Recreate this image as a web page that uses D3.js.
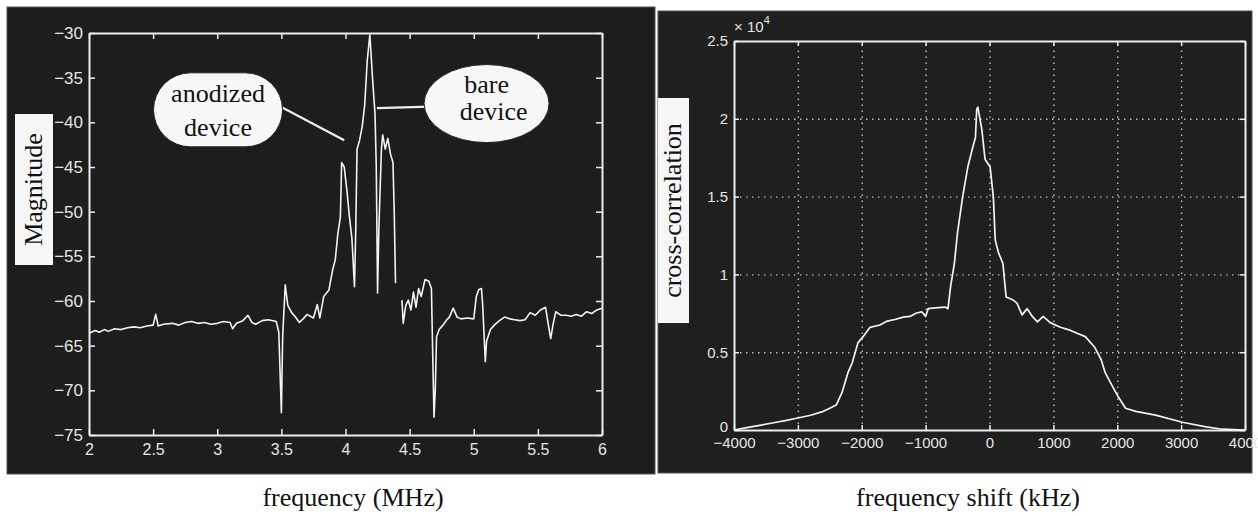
<!DOCTYPE html>
<html>
<head>
<meta charset="utf-8">
<script src="https://cdn.jsdelivr.net/npm/d3@7"></script>
<style>
  body { margin: 0; background: #fff; }
  svg { display: block; }
  .tick text { font-family: "Liberation Sans", Arial, sans-serif; fill: #e4e4e4; }
  .serif { font-family: "Liberation Serif", "Times New Roman", serif; fill: #111; }
</style>
</head>
<body>
<svg id="chart"></svg>
<script>
// left panel: measured spectrum, magnitude vs frequency (MHz); null = gap in trace
const leftFreq = [2.00, 2.05, 2.08, 2.12, 2.15, 2.20, 2.25, 2.30, 2.35, 2.40, 2.45, 2.50, 2.52, 2.54, 2.58,
  2.65, 2.70, 2.75, 2.80, 2.85, 2.90, 2.95, 3.00, 3.05, 3.10, 3.12, 3.15, 3.20, 3.24, 3.27, 3.30, 3.35,
  3.40, 3.46, 3.48, 3.50, 3.51, 3.53, 3.55, 3.58, 3.61, 3.64, 3.67, 3.70, 3.75, 3.78, 3.80, 3.83, 3.87,
  3.90, 3.92, 3.94, 3.96, 3.97, 3.99, 4.01, 4.03, 4.05, 4.07, 4.08, 4.09, 4.11, 4.13, 4.15, 4.17, 4.19,
  4.21, 4.22, 4.23, 4.24, 4.25, 4.26, 4.28, 4.29, 4.31, 4.33, 4.35, 4.37, 4.38, 4.39, 4.41, 4.44, 4.45,
  4.47, 4.49, 4.51, 4.53, 4.55, 4.57, 4.59, 4.62, 4.65, 4.67, 4.68, 4.69, 4.70, 4.71, 4.73, 4.76, 4.79,
  4.81, 4.84, 4.87, 4.90, 4.95, 5.00, 5.02, 5.04, 5.06, 5.07, 5.09, 5.10, 5.13, 5.16, 5.20, 5.24, 5.28,
  5.32, 5.36, 5.40, 5.44, 5.48, 5.52, 5.56, 5.58, 5.60, 5.62, 5.64, 5.68, 5.72, 5.76, 5.80, 5.84, 5.88,
  5.92, 5.96, 6.00];
const leftMag = [-63.6, -63.3, -63.5, -63.2, -63.4, -63.1, -63.2, -63.0, -62.9, -63.0, -62.8, -62.7, -61.5, -62.8, -62.6,
  -62.5, -62.7, -62.4, -62.3, -62.5, -62.4, -62.6, -62.5, -62.3, -62.4, -63.1, -62.5, -62.2, -61.6, -62.4, -62.6, -62.2,
  -62.1, -62.3, -63.5, -72.5, -64.0, -58.2, -60.5, -61.3, -61.8, -62.4, -62.0, -61.5, -61.9, -60.4, -61.9, -59.5, -58.8,
  -56.5, -55.4, -52.5, -50.6, -44.5, -45.0, -47.5, -50.5, -53.0, -58.4, -52.0, -43.0, -42.0, -40.5, -38.0, -33.0, -30.2,
  -34.9, -37.0, -39.0, -45.0, -59.1, -52.0, -43.0, -41.4, -43.0, -41.8, -43.5, -44.5, -50.0, -58.0, null, -59.9, -62.5,
  -60.5, -59.9, -61.0, -59.0, -60.7, -58.6, -59.5, -57.6, -57.8, -58.6, -66.0, -73.0, -70.0, -64.0, -63.2, -62.7, -62.1,
  -61.8, -60.8, -61.8, -62.0, -61.9, -62.0, -59.5, -58.7, -58.6, -60.5, -66.8, -64.5, -63.2, -62.7, -62.2, -61.8, -62.0,
  -62.1, -62.2, -62.1, -61.3, -61.6, -61.0, -60.7, -62.5, -64.2, -62.5, -61.2, -61.6, -61.6, -61.7, -61.5, -61.7, -61.2,
  -61.4, -61.0, -60.8];
const leftXTicks = [2, 2.5, 3, 3.5, 4, 4.5, 5, 5.5, 6];
const leftYTicks = [-75, -70, -65, -60, -55, -50, -45, -40, -35, -30];

// right panel: cross-correlation (x 10^4) vs frequency shift (kHz)
const rightShift = [-4000, -3800, -3600, -3400, -3200, -3000, -2800, -2600, -2500, -2400, -2310, -2215, -2150,
  -2060, -1980, -1870, -1715, -1600, -1480, -1350, -1245, -1150, -1060, -1000, -960, -850, -700, -650, -610,
  -550, -500, -420, -340, -260, -220, -200, -182, -120, -70, 10, 60, 90, 140, 210, 260, 370, 430, 510, 590,
  670, 750, 840, 950, 1110, 1270, 1380, 1500, 1650, 1750, 1810, 1900, 2020, 2130, 2290, 2600, 3020, 3390,
  3650, 4000];
const rightCorr = [0.00, 0.015, 0.03, 0.045, 0.06, 0.077, 0.095, 0.12, 0.14, 0.16, 0.24, 0.37, 0.43,
  0.56, 0.60, 0.66, 0.675, 0.70, 0.71, 0.725, 0.73, 0.75, 0.76, 0.73, 0.78, 0.785, 0.79, 0.78, 0.92,
  1.07, 1.27, 1.50, 1.69, 1.82, 1.88, 2.06, 2.075, 1.93, 1.74, 1.69, 1.50, 1.22, 1.14, 1.07, 0.855, 0.835, 0.815, 0.74, 0.78,
  0.73, 0.695, 0.73, 0.69, 0.66, 0.64, 0.62, 0.60, 0.53, 0.45, 0.37, 0.30, 0.21, 0.14, 0.12, 0.096, 0.05, 0.02,
  0.005, 0.0];
const rightXTicks = [-4000, -3000, -2000, -1000, 0, 1000, 2000, 3000, 4000];
const rightYTicks = [0, 0.5, 1, 1.5, 2, 2.5];

const width = 1258, height = 516;
const svg = d3.select("#chart").attr("width", width).attr("height", height);

const axisColor = "#ececec";

function styleAxis(g, fontSize) {
  g.select(".domain").attr("stroke", axisColor).attr("stroke-width", 2);
  g.selectAll(".tick line").attr("stroke", axisColor).attr("stroke-width", 1.5);
  g.selectAll(".tick text").style("font-size", fontSize + "px");
}

// _________________________
// left panel
// _________________________
svg.append("rect").attr("x", 7).attr("y", 7).attr("width", 648).attr("height", 467)
  .attr("fill", "#1d1d1d").attr("stroke", "#555").attr("stroke-width", 1);

const xL = d3.scaleLinear().domain([2, 6]).range([89, 602]);
const yL = d3.scaleLinear().domain([-75, -30]).range([435, 33]);

const fmtL = d => d3.format("")(d).replace("-", "\u2212");

svg.append("g").attr("transform", `translate(0,${yL(-75)})`)
  .call(d3.axisBottom(xL).tickValues(leftXTicks).tickSizeInner(-6).tickSizeOuter(0).tickPadding(9).tickFormat(fmtL))
  .call(g => styleAxis(g, 16));
svg.append("g").attr("transform", `translate(0,${yL(-30)})`)
  .call(d3.axisTop(xL).tickValues(leftXTicks).tickSizeInner(-6).tickSizeOuter(0).tickFormat(""))
  .call(g => styleAxis(g, 16));
svg.append("g").attr("transform", `translate(${xL(2)},0)`)
  .call(d3.axisLeft(yL).tickValues(leftYTicks).tickSizeInner(-6).tickSizeOuter(0).tickPadding(6).tickFormat(fmtL))
  .call(g => styleAxis(g, 17));
svg.append("g").attr("transform", `translate(${xL(6)},0)`)
  .call(d3.axisRight(yL).tickValues(leftYTicks).tickSizeInner(-6).tickSizeOuter(0).tickFormat(""))
  .call(g => styleAxis(g, 17));

const leftData = leftFreq.map((f, i) => ({f, m: leftMag[i]}));
svg.append("path")
  .datum(leftData)
  .attr("fill", "none")
  .attr("stroke", "#f2f2f2")
  .attr("stroke-width", 1.6)
  .attr("stroke-linejoin", "round")
  .attr("d", d3.line().defined(d => d.m !== null).x(d => xL(d.f)).y(d => yL(d.m)));

// callouts
const callouts = [
  {lines: ["anodized", "device"], cx: 3.006, cy: -38.6, w: 129, h: 74, r: 37, lead: [3.99, -42.0], side: -1, dy: [-8, 26], anchorX: 3.51},
  {lines: ["bare", "device"], cx: 5.10, cy: -37.9, w: 125, h: 78, r: 62, lead: [4.245, -38.4], side: 1, dy: [-11, 16], anchorX: 4.655}
];
callouts.forEach(c => {
  const px = xL(c.cx), py = yL(c.cy);
  svg.append("line")
    .attr("x1", xL(c.anchorX)).attr("y1", c.side < 0 ? py - 2 : py + 3)
    .attr("x2", xL(c.lead[0])).attr("y2", yL(c.lead[1]))
    .attr("stroke", "#eee").attr("stroke-width", 2.2);
  svg.append("rect")
    .attr("x", px - c.w / 2).attr("y", py - c.h / 2)
    .attr("width", c.w).attr("height", c.h)
    .attr("rx", c.r).attr("ry", c.h / 2)
    .attr("fill", "#f7f7f7").attr("stroke", "#222").attr("stroke-width", 1);
  c.lines.forEach((t, i) => {
    svg.append("text").attr("class", "serif")
      .attr("x", px + (i === 1 && c.side > 0 ? 7 : 0)).attr("y", py + c.dy[i])
      .attr("text-anchor", "middle")
      .style("font-size", "26px")
      .text(t);
  });
});

// y label box
svg.append("rect").attr("x", 15).attr("y", 114).attr("width", 38).attr("height", 151).attr("fill", "#f6f6f6");
svg.append("text").attr("class", "serif")
  .attr("transform", `translate(42,${(114 + 265) / 2}) rotate(-90)`)
  .attr("text-anchor", "middle")
  .style("font-size", "26px")
  .text("Magnitude");

svg.append("text").attr("class", "serif")
  .attr("x", 353).attr("y", 506)
  .attr("text-anchor", "middle")
  .style("font-size", "26px")
  .text("frequency (MHz)");

// _________________________
// right panel
// _________________________
svg.append("rect").attr("x", 658).attr("y", 11).attr("width", 594).attr("height", 462)
  .attr("fill", "#1f1f1f").attr("stroke", "#555").attr("stroke-width", 1);

const xR = d3.scaleLinear().domain([-4000, 4000]).range([734, 1245]);
const yR = d3.scaleLinear().domain([0, 2.5]).range([430, 41]);

// dotted grid
svg.append("g").attr("transform", `translate(0,${yR(0)})`)
  .call(d3.axisBottom(xR).tickValues(rightXTicks.slice(1, -1)).tickSize(-(yR(0) - yR(2.5))).tickFormat(""))
  .call(g => g.select(".domain").remove())
  .call(g => g.selectAll(".tick line").attr("stroke", "#bdbdbd").attr("stroke-width", 1.4).attr("stroke-dasharray", "1.5,4.5"));
svg.append("g").attr("transform", `translate(${xR(-4000)},0)`)
  .call(d3.axisLeft(yR).tickValues(rightYTicks.slice(1, -1)).tickSize(-(xR(4000) - xR(-4000))).tickFormat(""))
  .call(g => g.select(".domain").remove())
  .call(g => g.selectAll(".tick line").attr("stroke", "#bdbdbd").attr("stroke-width", 1.4).attr("stroke-dasharray", "1.5,4.5"));

const fmtR = d => String(d).replace("-", "\u2212");
svg.append("g").attr("transform", `translate(0,${yR(0)})`)
  .call(d3.axisBottom(xR).tickValues(rightXTicks).tickSizeInner(-5).tickSizeOuter(0).tickPadding(7).tickFormat(fmtR))
  .call(g => styleAxis(g, 15));
svg.append("g").attr("transform", `translate(0,${yR(2.5)})`)
  .call(d3.axisTop(xR).tickValues(rightXTicks).tickSizeInner(-5).tickSizeOuter(0).tickFormat(""))
  .call(g => styleAxis(g, 15));
svg.append("g").attr("transform", `translate(${xR(-4000)},0)`)
  .call(d3.axisLeft(yR).tickValues(rightYTicks).tickSizeInner(-5).tickSizeOuter(0).tickPadding(6).tickFormat(fmtR))
  .call(g => styleAxis(g, 15))
  .call(g => g.selectAll(".tick text").filter(d => d === 0).attr("dy", "0.1em"));
svg.append("g").attr("transform", `translate(${xR(4000)},0)`)
  .call(d3.axisRight(yR).tickValues(rightYTicks).tickSizeInner(-5).tickSizeOuter(0).tickFormat(""))
  .call(g => styleAxis(g, 15));

// exponent label
const expo = svg.append("text")
  .attr("x", xR(-4000)).attr("y", yR(2.5) - 9)
  .style("font-family", "'Liberation Sans', Arial, sans-serif")
  .style("font-size", "15px").attr("fill", "#e4e4e4");
expo.append("tspan").text("\u00d7 10");
expo.append("tspan").attr("dy", -8).style("font-size", "11px").text("4");

const rightData = rightShift.map((k, i) => ({k, v: rightCorr[i]}));
svg.append("path")
  .datum(rightData)
  .attr("fill", "none")
  .attr("stroke", "#f2f2f2")
  .attr("stroke-width", 1.7)
  .attr("stroke-linejoin", "round")
  .attr("d", d3.line().x(d => xR(d.k)).y(d => yR(d.v)));

svg.append("rect").attr("x", 658).attr("y", 98).attr("width", 31).attr("height", 225).attr("fill", "#f6f6f6");
svg.append("text").attr("class", "serif")
  .attr("transform", `translate(681,${(98 + 323) / 2}) rotate(-90)`)
  .attr("text-anchor", "middle")
  .style("font-size", "26px")
  .text("cross-correlation");

svg.append("text").attr("class", "serif")
  .attr("x", 968).attr("y", 506)
  .attr("text-anchor", "middle")
  .style("font-size", "26px")
  .text("frequency shift (kHz)");
</script>
</body>
</html>
